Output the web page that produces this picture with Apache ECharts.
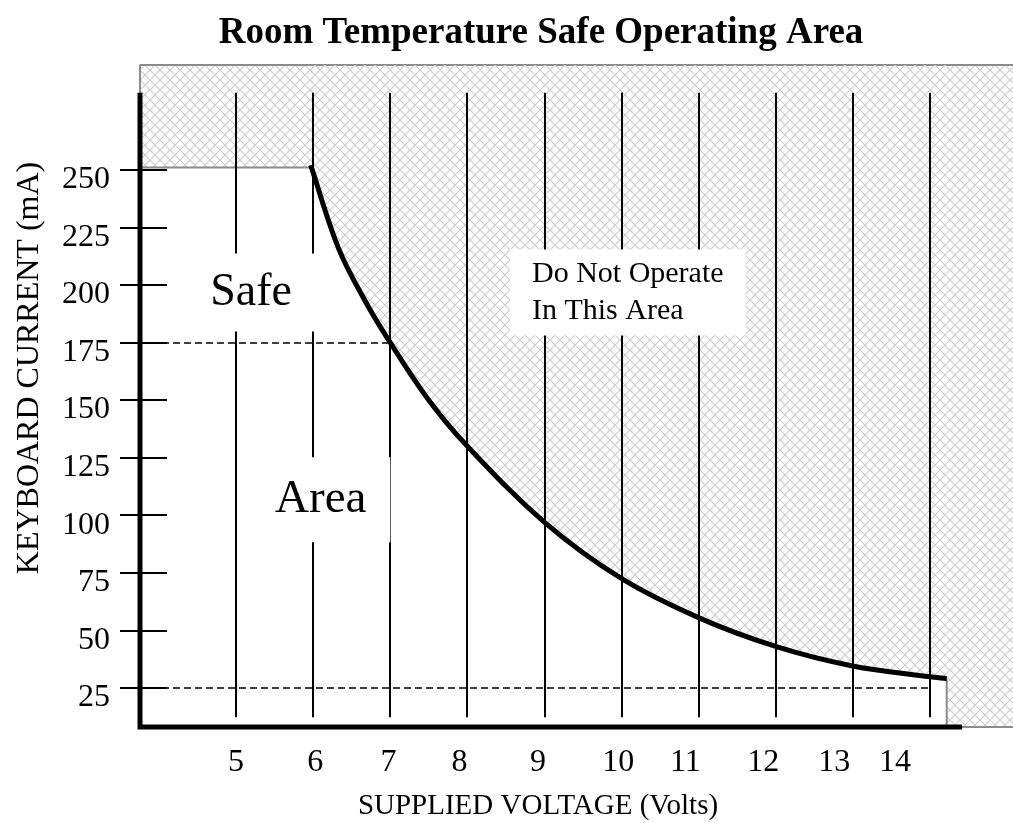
<!DOCTYPE html>
<html>
<head>
<meta charset="utf-8">
<title>Room Temperature Safe Operating Area</title>
<script src="https://cdn.jsdelivr.net/npm/echarts@6/dist/echarts.min.js"></script>
<style>
  html, body { margin: 0; padding: 0; background: #fff; }
  #chart { width: 1013px; height: 823px; }
</style>
</head>
<body>
<div id="chart"></div>
<script>
// ranges (axis corner is not at 0)
const xMin = 3.756, xMax = 15.08;
const yMin = 8, yMax = 295.5;

const xTickLabels = ["5", "6", "7", "8", "9", "10", "11", "12", "13", "14"];
const xTickLabelAt = [5, 6.03, 6.98, 7.9, 8.92, 9.96, 10.83, 11.84, 12.76, 13.55];
const yTickValues = [25, 50, 75, 100, 125, 150, 175, 200, 225, 250];

// thin vertical lines, one per volt
const gridVolts = [5, 6, 7, 8, 9, 10, 11, 12, 13, 14];
const gridLow = 12.2, gridHigh = 283.5;

// the limit curve (mA against volts)
const curveVolts = [5.97, 6.33, 6.66, 7, 7.5, 8, 9, 10, 11, 12, 13, 14, 14.22];
const curveCurrent = [252, 216, 194, 175, 150, 130, 97, 72.5, 55.5, 43, 34.5, 29.8, 29];

const flatLimit = 251;      // current limit left of 6 V
const flatEndVolts = 6;
const curveEndVolts = 14.22;
const axisEndVolts = 14.42;

const dashedLevels = [175, 25];
const dashedEndVolts = [7, 14];

const FONT = "'Liberation Serif', 'Times New Roman', serif";

const chart = echarts.init(document.getElementById("chart"));

function makeHatch() {
  const c = document.createElement("canvas");
  c.width = 10;
  c.height = 10;
  const g = c.getContext("2d");
  g.strokeStyle = "#cdcdcd";
  g.lineWidth = 1.2;
  g.beginPath();
  g.moveTo(-1, -1); g.lineTo(11, 11);
  g.moveTo(11, -1); g.lineTo(-1, 11);
  g.stroke();
  return c;
}
const hatch = { image: makeHatch(), repeat: "repeat" };

const curveData = curveVolts.map((v, i) => [v, curveCurrent[i]]);

// smooth path through the curve points (chord-scaled Catmull-Rom)
function renderLimit(params, api) {
  const pts = curveData.map((d) => api.coord(d));
  const n = pts.length;
  const dist = (a, b) => Math.hypot(b[0] - a[0], b[1] - a[1]);
  const s = 0.36;
  let path = "M" + pts[0][0] + " " + pts[0][1];
  for (let i = 0; i < n - 1; i++) {
    const p0 = pts[Math.max(i - 1, 0)];
    const p1 = pts[i];
    const p2 = pts[i + 1];
    const p3 = pts[Math.min(i + 2, n - 1)];
    const seg = dist(p1, p2);
    const r1 = seg / (dist(p0, p1) + seg || 1) * 2 * s;
    const r2 = seg / (seg + dist(p2, p3) || 1) * 2 * s;
    const c1 = [p1[0] + (p2[0] - p0[0]) * r1 / 2, p1[1] + (p2[1] - p0[1]) * r1 / 2];
    const c2 = [p2[0] - (p3[0] - p1[0]) * r2 / 2, p2[1] - (p3[1] - p1[1]) * r2 / 2];
    path += " C" + [c1[0], c1[1], c2[0], c2[1], p2[0], p2[1]].join(" ");
  }
  const topRight = api.coord([curveVolts[n - 1], yMax]);
  const topLeft = api.coord([curveVolts[0], yMax]);
  const area = path + " L" + topRight.join(" ") + " L" + topLeft.join(" ") + " Z";
  return {
    type: "group",
    children: [
      { type: "path", shape: { pathData: area }, style: { fill: hatch, stroke: null } },
      {
        type: "path",
        shape: { pathData: path },
        style: { fill: null, stroke: "#000", lineWidth: 5, lineCap: "butt" }
      }
    ]
  };
}

const gridLines = gridVolts.map((v) => [
  { coord: [v, gridLow] },
  { coord: [v, gridHigh] }
]);
const dashed = dashedLevels.map((lv, i) => [
  { coord: [xMin, lv], lineStyle: { type: [7, 4], width: 1.5, color: "#000" } },
  { coord: [dashedEndVolts[i], lv] }
]);

const noteLabel = {
  show: true,
  position: "inside",
  fontFamily: FONT,
  color: "#000",
  backgroundColor: "#fff",
  opacity: 1
};

const option = {
  animation: false,
  backgroundColor: "#fff",
  grid: { left: 140, right: 0, top: 65, bottom: 96, outerBoundsMode: "none" },
  xAxis: {
    type: "value",
    min: xMin,
    max: xMax,
    axisLine: { show: false },
    axisTick: { show: false },
    splitLine: { show: false },
    axisLabel: {
      customValues: xTickLabelAt,
      formatter: (v) => {
        let k = 0;
        xTickLabelAt.forEach((p, i) => {
          if (Math.abs(p - v) < Math.abs(xTickLabelAt[k] - v)) k = i;
        });
        return xTickLabels[k];
      },
      fontFamily: FONT,
      fontSize: 32,
      color: "#000",
      margin: 20
    }
  },
  yAxis: [
    {
      type: "value",
      min: yMin,
      max: yMax,
      axisLine: { show: false },
      splitLine: { show: false },
      axisTick: {
        show: true,
        customValues: yTickValues,
        length: 20,
        lineStyle: { color: "#000", width: 2 }
      },
      axisLabel: {
        customValues: yTickValues,
        fontFamily: FONT,
        fontSize: 32,
        color: "#000",
        margin: 30,
        verticalAlign: "top",
        lineHeight: 20
      }
    },
    {
      type: "value",
      position: "left",
      min: yMin,
      max: yMax,
      axisLine: { show: false },
      splitLine: { show: false },
      axisTick: {
        show: true,
        inside: true,
        customValues: yTickValues,
        length: 27,
        lineStyle: { color: "#000", width: 2 }
      },
      axisLabel: { show: false }
    }
  ],
  graphic: [
    {
      type: "text",
      x: 541,
      y: 33,
      style: {
        text: "Room Temperature Safe Operating Area",
        font: "bold 37px " + FONT,
        fill: "#000",
        textAlign: "center",
        textVerticalAlign: "middle",
        align: "center",
        verticalAlign: "middle"
      }
    },
    {
      type: "text",
      x: 538,
      y: 806,
      style: {
        text: "SUPPLIED VOLTAGE (Volts)",
        font: "29px " + FONT,
        fill: "#000",
        textAlign: "center",
        textVerticalAlign: "middle",
        align: "center",
        verticalAlign: "middle"
      }
    },
    {
      type: "text",
      x: 30,
      y: 368,
      rotation: Math.PI / 2,
      style: {
        text: "KEYBOARD CURRENT (mA)",
        font: "32px " + FONT,
        fill: "#000",
        textAlign: "center",
        textVerticalAlign: "middle",
        align: "center",
        verticalAlign: "middle"
      }
    }
  ],
  series: [
    {
      name: "no-go left",
      type: "line",
      z: 1,
      symbol: "none",
      clip: false,
      data: [[xMin, flatLimit], [flatEndVolts, flatLimit]],
      lineStyle: { color: "#8c8c8c", width: 2 },
      areaStyle: { origin: "end", color: hatch, opacity: 1 }
    },
    {
      name: "no-go right",
      type: "line",
      z: 1,
      symbol: "none",
      clip: false,
      data: [[curveEndVolts, curveCurrent[curveCurrent.length - 1]], [curveEndVolts, yMin], [xMax, yMin]],
      lineStyle: { color: "#8c8c8c", width: 2 },
      areaStyle: { origin: "end", color: hatch, opacity: 1 }
    },
    {
      name: "frame",
      type: "line",
      z: 1,
      symbol: "none",
      clip: false,
      data: [[xMin, flatLimit], [xMin, yMax], [xMax, yMax]],
      lineStyle: { color: "#8c8c8c", width: 2 }
    },
    {
      name: "axes",
      type: "line",
      z: 3,
      symbol: "none",
      clip: false,
      data: [[axisEndVolts, yMin], [xMin, yMin], [xMin, gridHigh]],
      lineStyle: { color: "#000", width: 5, join: "miter" },
      markLine: {
        silent: true,
        symbol: ["none", "none"],
        label: { show: false },
        lineStyle: { color: "#000", width: 2, type: "solid" },
        data: gridLines.concat(dashed)
      }
    },
    {
      name: "limit",
      type: "custom",
      z: 4,
      silent: true,
      renderItem: renderLimit,
      data: [curveData[0]]
    },
    {
      name: "notes",
      type: "scatter",
      z: 10,
      symbolSize: 0,
      itemStyle: { color: "#000", opacity: 1 },
      data: [
        {
          value: [5.196, 196.7],
          label: Object.assign({}, noteLabel, {
            formatter: "Safe", fontSize: 46, padding: [16, 23, 16, 23]
          })
        },
        {
          value: [6.1, 106.7],
          label: Object.assign({}, noteLabel, {
            formatter: "Area", fontSize: 47, padding: [19, 24, 19, 24]
          })
        },
        {
          value: [8.555, 196.7],
          label: Object.assign({}, noteLabel, {
            align: "left",
            formatter: "Do Not Operate\nIn This Area",
            fontSize: 30, lineHeight: 37, padding: [6, 22, 6, 22]
          })
        }
      ]
    }
  ]
};

chart.setOption(option);
</script>
</body>
</html>
